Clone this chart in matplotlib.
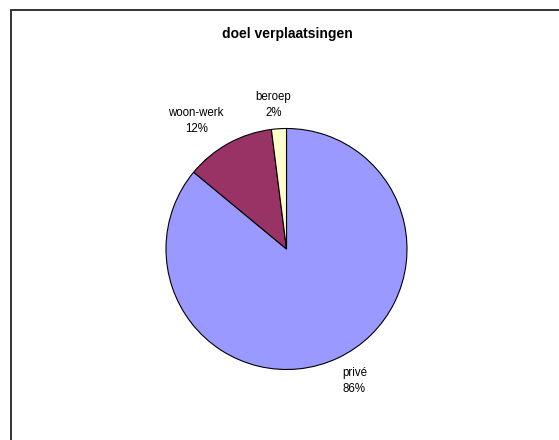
import numpy as np
import matplotlib
matplotlib.use("Agg")
import matplotlib.pyplot as plt
from matplotlib.patches import Rectangle

categories = ["privé", "woon-werk", "beroep"]
percentages = [86, 12, 2]
colors = ["#9999FF", "#993366", "#FFFFCC"]
title = "doel verplaatsingen"

plt.rcParams["font.family"] = ["Liberation Sans", "DejaVu Sans"]

W, H = 559, 440
fig = plt.figure(figsize=(W / 100, H / 100), dpi=100)

# pie centre (286.5, 249) px, radius ~120.5 px; axes spans +-1.5 radii
r = 120.5
side = 3 * r
cx, cy = 286.5, 249
ax = fig.add_axes([(cx - side / 2) / W, (H - cy - side / 2) / H, side / W, side / H])

wedges, _ = ax.pie(
    percentages, colors=colors, startangle=90, counterclock=False,
    wedgeprops=dict(edgecolor="black", linewidth=0.8),
)
ax.set_xlim(-1.5, 1.5)
ax.set_ylim(-1.5, 1.5)
ax.set_aspect("equal")

# Excel-style labels: text box sits just outside the slice edge
fig.canvas.draw()
renderer = fig.canvas.get_renderer()
px_to_data = 3.0 / side
for w, cat, pct in zip(wedges, categories, percentages):
    mid = np.deg2rad((w.theta1 + w.theta2) / 2)
    c, s = np.cos(mid), np.sin(mid)
    t = ax.text(0, 0, f"{cat}\n{pct}%", ha="center", va="center",
                fontsize=8.3, linespacing=1.45, multialignment="center")
    bb = t.get_window_extent(renderer)
    hw = bb.width / 2 * px_to_data
    hh = bb.height / 2 * px_to_data
    x = 1.08 * c + hw * np.sign(c) * min(1, abs(c) * 4.5)
    y = 1.08 * s + hh * np.sign(s) * min(1, abs(s) * 4.5)
    t.set_position((x, y))

fig.text(287 / W, 1 - 34 / H, title, ha="center", va="center",
         fontsize=10, fontweight="bold")

# chart area border (runs off the right and bottom edges)
fig.patches.append(Rectangle((11 / W, -0.1), 1.2, 1.1 - 10.5 / H,
                             transform=fig.transFigure, fill=False,
                             edgecolor="#222222", linewidth=1.3))

fig.savefig("out.png", dpi=100)
